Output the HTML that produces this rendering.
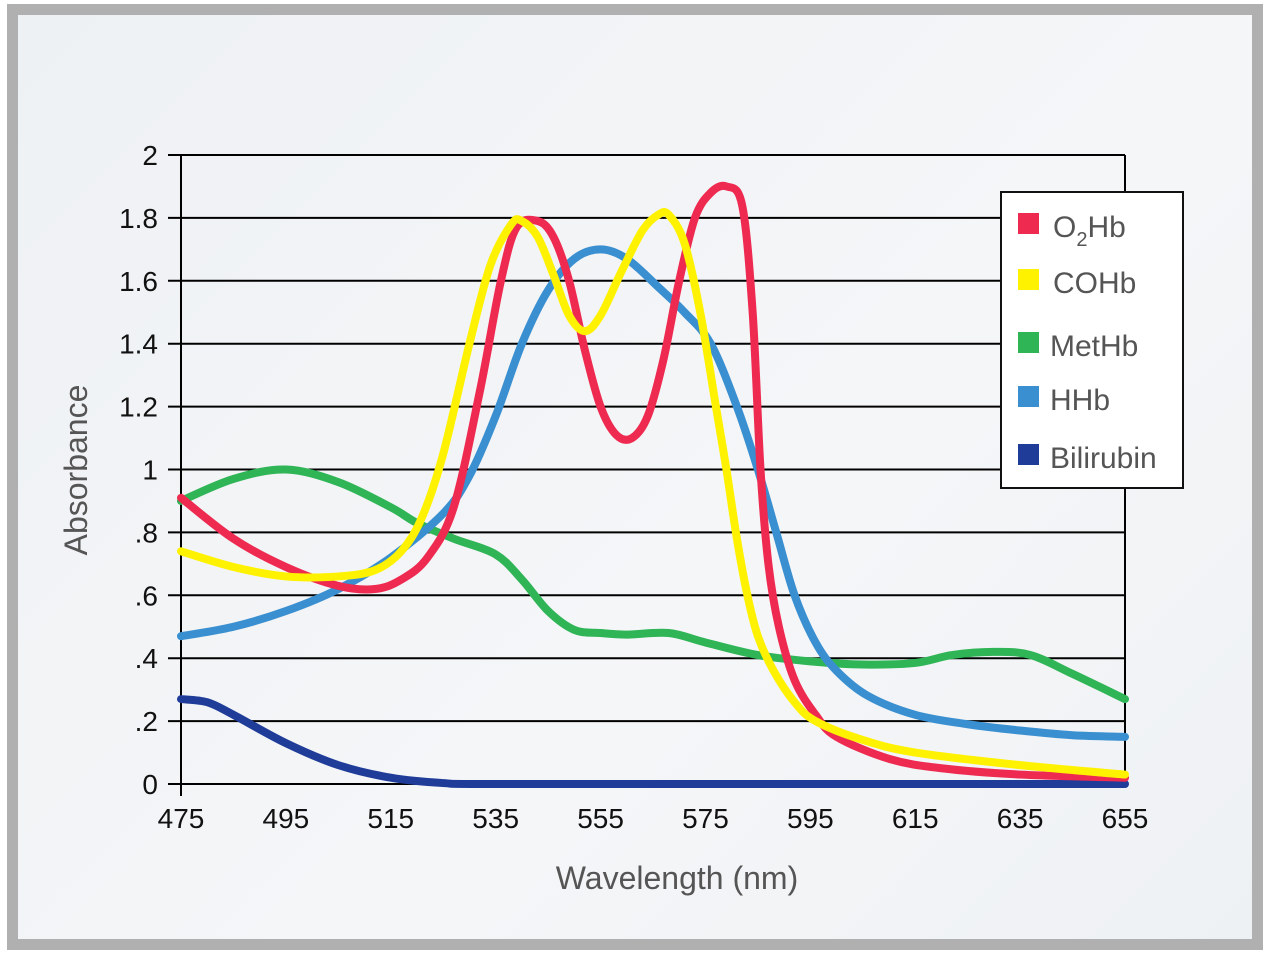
<!DOCTYPE html>
<html><head><meta charset="utf-8"><style>
html,body{margin:0;padding:0;background:#fff;}
body{width:1270px;height:957px;overflow:hidden;position:relative;font-family:"Liberation Sans",sans-serif;}
#frame{position:absolute;left:7px;top:4px;width:1234px;height:924px;border:11px solid #b0b0b0;background:linear-gradient(135deg,#eef1f4,#f5f6f8 60%,#eef1f4);}
svg{position:absolute;left:0;top:0;}
</style></head><body>
<div id="frame"></div>
<svg id="chart" width="1270" height="957"></svg>
<script>
const xTicks=[475,495,515,535,555,575,595,615,635,655];
const yTicks=[0,0.2,0.4,0.6,0.8,1,1.2,1.4,1.6,1.8,2];
const yTickLabels=["0",".2",".4",".6",".8","1","1.2","1.4","1.6","1.8","2"];
const seriesNames=["O2Hb","COHb","MetHb","HHb","Bilirubin"];
const seriesColors=["#ee2a50","#fff200","#2fb456","#3a8fd0","#1f3c99"];
const o2hbW=[475,485,495,505,512,517,522,527,532,536,539,543,546,549,552,555,558,561,564,567,570,573,576,579,582,584,585.5,587,589,592,596,600,610,620,635,655];
const o2hbV=[0.91,0.78,0.69,0.63,0.62,0.65,0.72,0.88,1.25,1.6,1.77,1.79,1.74,1.6,1.38,1.2,1.11,1.1,1.17,1.35,1.6,1.8,1.88,1.9,1.84,1.5,1.0,0.7,0.5,0.33,0.22,0.15,0.08,0.05,0.03,0.02];
const cohbW=[475,485,495,505,512,517,521,525,530,534,538,540,543,546,549,552,555,559,563,566,568,571,574,577,579,581,583,585,588,592,596,605,615,635,655];
const cohbV=[0.74,0.69,0.66,0.66,0.68,0.74,0.85,1.05,1.4,1.65,1.78,1.79,1.74,1.62,1.49,1.44,1.49,1.63,1.76,1.81,1.81,1.72,1.5,1.2,1.0,0.78,0.6,0.47,0.36,0.26,0.2,0.14,0.1,0.06,0.03];
const methbW=[475,485,495,505,515,520,527,535,540,545,550,555,560,568,575,585,595,605,615,622,630,637,645,655];
const methbV=[0.9,0.97,1.0,0.96,0.88,0.83,0.78,0.73,0.65,0.55,0.49,0.48,0.475,0.48,0.45,0.41,0.39,0.38,0.385,0.41,0.42,0.41,0.35,0.27];
const hhbW=[475,485,495,505,515,525,530,535,540,545,550,555,560,566,571,576,581,585,588.5,592,596,600,606,615,625,635,645,655];
const hhbV=[0.47,0.5,0.55,0.62,0.72,0.86,0.98,1.17,1.4,1.57,1.67,1.7,1.67,1.58,1.5,1.4,1.2,1.0,0.8,0.6,0.45,0.36,0.28,0.22,0.19,0.17,0.155,0.15];
const biliW=[475,480,485,495,505,515,525,535,595,655];
const biliV=[0.27,0.26,0.22,0.13,0.06,0.02,0.003,0,0,0];

const NS="http://www.w3.org/2000/svg";
const svg=document.getElementById('chart');
const X0=181,X1=1125,Y0=784,Y1=155;
const xs=w=>X0+(w-475)/(655-475)*(X1-X0);
const ys=v=>Y0-v/2*(Y0-Y1);
function mk(t,a,p){const e=document.createElementNS(NS,t);for(const k in a)e.setAttribute(k,a[k]);(p||svg).appendChild(e);return e;}

yTicks.forEach((v,i)=>{
  const g=mk('line',{x1:168,x2:X1,y1:ys(v),y2:ys(v),stroke:'#000','stroke-width':2});
  
  
  const t=mk('text',{x:158,y:ys(v)+10,'text-anchor':'end','font-size':28,fill:'#111'});
  t.textContent=yTickLabels[i];
  
  
});
const ax=mk('line',{x1:X0,x2:X0,y1:Y1,y2:Y0+12,stroke:'#000','stroke-width':2});


const ax2=mk('line',{x1:X1,x2:X1,y1:Y1,y2:Y0,stroke:'#000','stroke-width':2});


xTicks.forEach(w=>{
  const t=mk('text',{x:xs(w),y:828,'text-anchor':'middle','font-size':28,fill:'#111'});
  t.textContent=w;
  
  
});
const xt=mk('text',{x:677,y:889,'text-anchor':'middle','font-size':32,fill:'#555'});
xt.textContent='Wavelength (nm)';


const yt=mk('text',{x:0,y:0,'text-anchor':'middle','font-size':32,fill:'#555',transform:'translate(87,470) rotate(-90)'});
yt.textContent='Absorbance';



function pathFor(W,V){
  const p=W.map((w,i)=>[xs(w),ys(V[i])]);
  let d='M'+p[0][0]+','+p[0][1];
  for(let i=0;i<p.length-1;i++){
    const a=p[Math.max(0,i-1)],b=p[i],c=p[i+1],e=p[Math.min(p.length-1,i+2)];
    const c1x=b[0]+(c[0]-a[0])/6,c1y=b[1]+(c[1]-a[1])/6,c2x=c[0]-(e[0]-b[0])/6,c2y=c[1]-(e[1]-b[1])/6;
    d+=` C${c1x},${c1y} ${c2x},${c2y} ${c[0]},${c[1]}`;
  }
  return d;
}
const allW=[o2hbW,cohbW,methbW,hhbW,biliW],allV=[o2hbV,cohbV,methbV,hhbV,biliV];
const order=[4,2,3,0,1];
const curveNames=['o2hb-curve','cohb-curve','methb-curve','hhb-curve','bilirubin-curve'];
order.forEach(i=>{
  const p=mk('path',{d:pathFor(allW[i],allV[i]),fill:'none',stroke:seriesColors[i],'stroke-width':8,'stroke-linecap':'round','stroke-linejoin':'round'});
  
  
});

const lg=mk('g',{});


mk('rect',{x:1001,y:192,width:182,height:296,fill:'#fff',stroke:'#111','stroke-width':2},lg);
const ly=[226,282,345,399,457];
seriesNames.forEach((n,i)=>{
  const r=mk('rect',{x:1018,y:ly[i]-13,width:21,height:21,fill:seriesColors[i]},lg);
  
  
  const t=mk('text',{x:i<2?1053:1050,y:ly[i]+11,'font-size':30,fill:'#555'},lg);
  if(n==='O2Hb'){t.innerHTML='O<tspan font-size="20" dy="9">2</tspan><tspan dy="-9">Hb</tspan>';}
  else t.textContent=n;
  
  
});
</script>
</body></html>
